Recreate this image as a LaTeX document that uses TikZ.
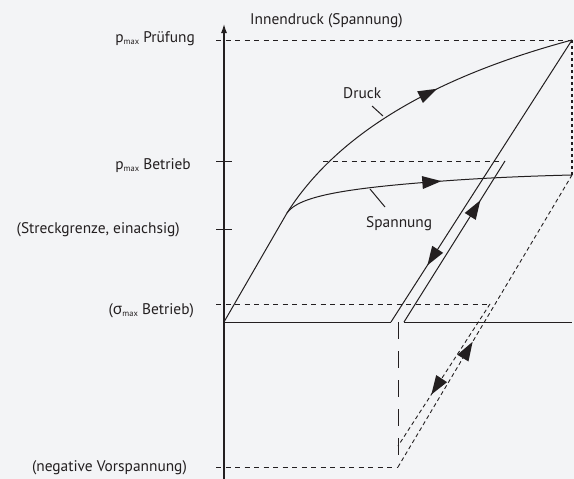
\documentclass[tikz,border=0pt]{standalone}
\usepackage{fontspec}
\setmainfont{PT Sans}
\newfontfamily\grk{Noto Sans}
\usetikzlibrary{decorations.markings,arrows.meta}
\definecolor{bg}{RGB}{243,244,246}
\definecolor{ink}{RGB}{35,31,32}
\newcommand{\submax}{\raisebox{-2.5pt}{\fontsize{8.5}{9}\selectfont max}}
\begin{document}
\begin{tikzpicture}[x=1pt,y=-1pt,
  solid line/.style={line width=1pt, draw=ink},
  dashln/.style={line width=0.9pt, draw=ink, dash pattern=on 5pt off 4.5pt},
  longdash/.style={line width=0.9pt, draw=ink, dash pattern=on 17pt off 12pt},
  dotln/.style={line width=0.9pt, draw=ink, dash pattern=on 4pt off 3pt},
  vdot/.style={line width=1.6pt, draw=ink, dash pattern=on 3pt off 3pt},
  lbl/.style={inner sep=0pt, font=\fontsize{15.4}{17}\selectfont, text=ink},
  arrmark/.style={decoration={markings, mark=at position #1 with {\fill[ink, solid] (3pt,0) -- (-16pt,6.5pt) -- (-16pt,-6.5pt) -- cycle;}}, postaction={decorate}},
]
\fill[bg] (0,0) rectangle (574,479);
\useasboundingbox (0,0) rectangle (574,479);

% key points
\coordinate (axbot) at (224,479);
\coordinate (axtop) at (224,24);
\coordinate (O) at (224,322);
\coordinate (K) at (287,213);
\coordinate (P) at (572,40);
\coordinate (S) at (572,175);
\coordinate (A) at (391,322);
\coordinate (B) at (404,322);
\coordinate (C) at (505,161);
\coordinate (E) at (572,322);
\coordinate (N) at (398,467);
\coordinate (M) at (490,304);
\coordinate (L) at (398,446);
\coordinate (T) at (398,322);
\coordinate (d1) at (216,40);
\coordinate (d2) at (323,161);
\coordinate (d3) at (216,304);
\coordinate (d4) at (216,467);
\coordinate (t1a) at (216,161);
\coordinate (t1b) at (232,161);
\coordinate (t2a) at (216,229);
\coordinate (t2b) at (232,229);
\coordinate (ld1) at (372,106);
\coordinate (ld2) at (383,116);
\coordinate (ls1) at (370,189);
\coordinate (ls2) at (385,207);

% axis
\draw[solid line, line width=1.2pt, -{Latex[length=9pt,width=6pt]}] (axbot) -- (axtop);
\draw[solid line] (t1a) -- (t1b);
\draw[solid line] (t2a) -- (t2b);

% dashed guides
\draw[dashln] (d1) -- (P);
\draw[dashln] (d2) -- (C);
\draw[dashln] (d3) -- (M);
\draw[dashln] (d4) -- (N);
\draw[vdot] (P) -- (S);
\draw[longdash] (T) -- (N);

% baseline
\draw[solid line] (O) -- (A);
\draw[solid line] (B) -- (E);

% Druck curve
\draw[solid line] (O) -- (K);
\draw[solid line, arrmark=0.57] (K) .. controls (330,145) and (415,82) .. (P);
% Spannung curve
\draw[solid line, arrmark=0.54] (K) .. controls (298,197) and (340,189) .. (430,182) .. controls (480,178) and (530,176) .. (S);

% unloading / reloading lines
\draw[solid line, arrmark=0.79] (P) -- (A);
\draw[solid line, arrmark=0.74] (B) -- (C);
\draw[dotln, arrmark=0.42] (N) -- (S);
\draw[dotln, arrmark=0.62] (M) -- (L);

% leaders
\draw[solid line] (ld1) -- (ld2);
\draw[solid line] (ls1) -- (ls2);

% labels
\node[lbl, anchor=base west] (yl) at (250,24) {Innendruck (Spannung)};
\node[lbl, anchor=base east] (pp) at (195,42) {p\submax{} Prüfung};
\node[lbl, anchor=base east] (pb) at (191,169) {p\submax{} Betrieb};
\node[lbl, anchor=base east] (sg) at (180,233) {(Streckgrenze, einachsig)};
\node[lbl, anchor=base east] (sm) at (194,314) {({\grk σ}\submax{} Betrieb)};
\node[lbl, anchor=base east] (nv) at (187,471) {(negative Vorspannung)};
\node[lbl, anchor=base west] (dr) at (343,98) {Druck};
\node[lbl, anchor=base west] (sp) at (366,227) {Spannung};
\end{tikzpicture}
\end{document}
